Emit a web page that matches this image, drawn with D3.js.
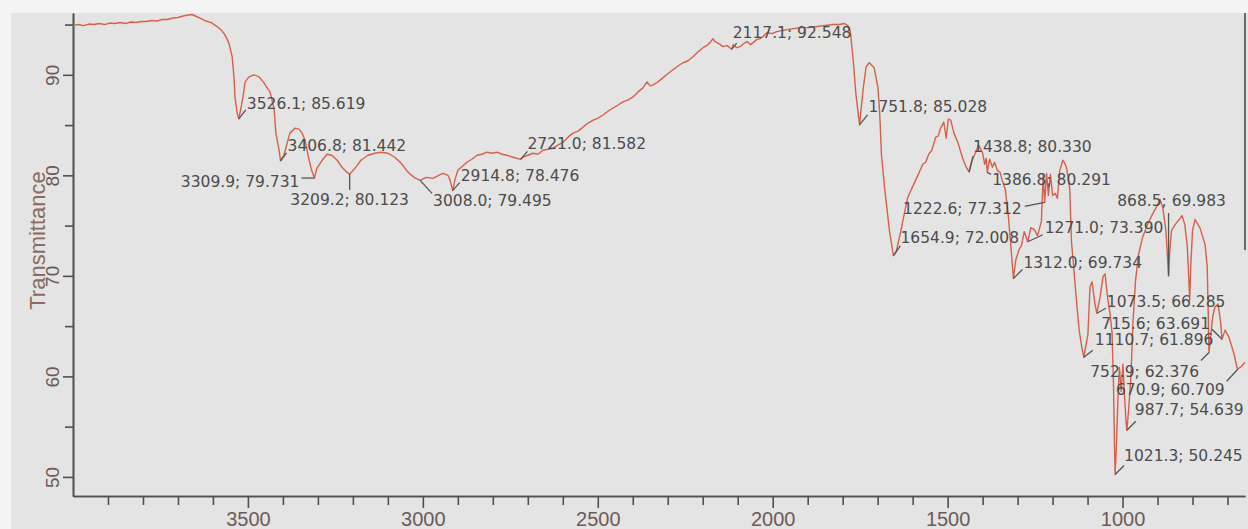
<!DOCTYPE html>
<html>
<head>
<meta charset="utf-8">
<script src="https://cdn.jsdelivr.net/npm/d3@7"></script>
<style>
  html, body { margin: 0; padding: 0; background: #f3f3f3; }
  svg { display: block; }
</style>
</head>
<body>
<svg id="chart" width="1248" height="529"></svg>
<script>
// FTIR spectrum: wavenumber (cm-1) against transmittance (%)
const wavenumber = [
  4000, 3985, 3970, 3955, 3940, 3925, 3910, 3895, 3880, 3865, 3850, 3835, 3820, 3805, 3790, 3775,
  3760, 3745, 3730, 3715, 3700, 3685, 3670, 3660, 3650, 3637, 3620, 3605, 3588, 3575, 3568, 3560,
  3554, 3545, 3540, 3537, 3531, 3526.1, 3517, 3511, 3508, 3497, 3483, 3468, 3454, 3445, 3437, 3431,
  3425, 3420, 3411, 3406.8, 3397, 3388, 3380, 3365, 3354, 3345, 3337, 3331, 3325, 3318, 3309.9, 3303,
  3288, 3274, 3260, 3245, 3231, 3220, 3209.2, 3194, 3177, 3157, 3137, 3120, 3100, 3080, 3062, 3042,
  3025, 3008.0, 2990, 2971, 2955, 2942, 2928, 2922, 2914.8, 2908, 2900, 2887, 2874, 2860, 2845, 2831,
  2817, 2803, 2788, 2774, 2760, 2742, 2721.0, 2714, 2700, 2685, 2671, 2657, 2642, 2628, 2614, 2599,
  2585, 2571, 2556, 2542, 2528, 2513, 2499, 2485, 2470, 2456, 2442, 2428, 2413, 2399, 2385, 2371,
  2365, 2359, 2350, 2342, 2328, 2314, 2300, 2285, 2270, 2256, 2242, 2228, 2213, 2199, 2189, 2179,
  2171, 2165, 2159, 2150, 2142, 2130, 2117.1, 2113, 2103, 2093, 2083, 2073, 2063, 2056, 2046, 2036,
  2028, 2016, 2002, 1988, 1974, 1959, 1940, 1922, 1900, 1873, 1850, 1828, 1810, 1795, 1785, 1778,
  1770, 1762, 1751.8, 1741, 1733, 1724, 1710, 1699, 1694, 1689, 1680, 1666, 1654.9, 1647, 1634, 1625,
  1614, 1605, 1597, 1585, 1571, 1563, 1554, 1545, 1534, 1527, 1520, 1511, 1504, 1498, 1491, 1482,
  1471, 1457, 1448, 1438.8, 1430, 1421, 1412, 1405, 1400, 1394, 1390, 1386.8, 1380, 1372, 1366, 1358,
  1350, 1345, 1335, 1326, 1318, 1312.0, 1305, 1296, 1289, 1281, 1271.0, 1262, 1252, 1243, 1232, 1227,
  1222.6, 1217, 1212, 1206, 1200, 1192, 1186, 1180, 1171, 1165, 1160, 1151, 1146, 1140, 1132, 1124,
  1117, 1110.7, 1099, 1093, 1087, 1079, 1073.5, 1064, 1056, 1050, 1042, 1036, 1030, 1026, 1023, 1021.3,
  1017, 1013, 1009, 1004, 999, 994, 990, 987.7, 983, 976, 970, 963, 955, 943, 930, 915,
  901, 893, 885, 876, 871, 868.5, 865, 860, 850, 838, 830, 822, 815, 811, 808, 805,
  800, 793, 779, 770, 764, 758, 755, 752.9, 748, 742, 736, 727, 720, 715.6, 707, 696,
  681, 673, 670.9, 660, 650
];

const transmittance = [
  94.9, 95.0, 94.9, 95.05, 95.0, 95.1, 95.0, 95.15, 95.1, 95.2, 95.1, 95.25, 95.2, 95.3, 95.3, 95.4,
  95.35, 95.5, 95.5, 95.65, 95.7, 95.85, 95.95, 96.0, 95.85, 95.65, 95.35, 95.2, 94.8, 94.4, 94.1, 93.6,
  93.1, 91.8, 89.8, 87.8, 86.2, 85.619, 87.2, 88.5, 89.3, 89.8, 90.0, 89.8, 89.2, 88.7, 88.3, 87.5,
  86.5, 84.2, 82.5, 81.442, 82.0, 83.2, 84.2, 84.7, 84.6, 84.2, 83.5, 82.5, 81.5, 80.5, 79.731, 80.7,
  81.5, 82.1, 82.0, 81.5, 80.8, 80.4, 80.123, 80.7, 81.5, 82.0, 82.2, 82.3, 82.2, 81.8, 81.2, 80.3,
  79.8, 79.495, 79.8, 79.7, 80.0, 80.2, 80.0, 79.5, 78.476, 79.6, 80.5, 80.9, 81.3, 81.6, 82.0, 82.1,
  82.3, 82.2, 82.3, 82.1, 82.0, 81.8, 81.582, 81.8, 82.0, 82.2, 82.1, 82.5, 82.6, 82.7, 83.0, 83.3,
  83.8, 84.2, 84.4, 84.8, 85.2, 85.5, 85.7, 86.0, 86.4, 86.7, 87.0, 87.3, 87.5, 87.8, 88.3, 88.7,
  89.0, 89.3, 88.9, 89.0, 89.3, 89.7, 90.1, 90.5, 90.9, 91.2, 91.4, 91.8, 92.3, 92.7, 92.9, 93.2,
  93.6, 93.3, 93.2, 93.0, 92.8, 92.9, 92.548, 93.0, 92.7, 92.8, 93.1, 93.3, 93.0, 93.2, 93.5, 93.6,
  93.8, 94.2, 94.1, 94.3, 94.4, 94.5, 94.6, 94.7, 94.7, 94.8, 94.9, 95.0, 95.0, 95.1, 94.9, 94.3,
  91.5, 88.0, 85.028, 88.7, 90.8, 91.2, 90.7, 88.7, 86.0, 82.0, 78.7, 74.4, 72.008, 72.4, 74.4, 76.0,
  77.8, 78.5, 79.1, 80.0, 81.1, 81.3, 82.1, 82.5, 83.8, 83.9, 84.7, 85.3, 83.7, 85.6, 85.5, 84.2,
  83.3, 81.7, 80.9, 80.330, 81.5, 82.2, 83.0, 82.6, 82.2, 81.1, 81.7, 80.291, 81.6, 80.8, 81.3, 80.5,
  80.3, 79.6, 78.6, 75.8, 72.4, 69.734, 71.6, 72.6, 73.0, 74.4, 73.390, 74.8, 74.6, 74.0, 75.4, 80.0,
  77.312, 80.2, 78.0, 80.1, 78.0, 78.2, 77.7, 80.4, 81.5, 81.2, 80.7, 78.7, 73.4, 71.0, 67.6, 64.6,
  63.0, 61.896, 64.2, 68.9, 69.4, 67.2, 66.285, 67.9, 69.9, 70.2, 67.6, 66.3, 64.3, 59.4, 53.0, 50.245,
  53.5, 58.0, 60.9, 58.5, 61.2, 57.8, 55.5, 54.639, 56.5, 60.0, 65.5, 69.5, 72.0, 73.8, 75.0, 76.1,
  77.0, 77.6, 76.8, 74.5, 71.5, 69.983, 72.5, 74.5, 75.1, 75.6, 76.0, 75.1, 73.0, 70.0, 67.6, 71.0,
  74.5, 75.6, 74.8, 73.8, 73.1, 70.9, 66.0, 62.376, 64.0, 66.0, 66.9, 67.2, 65.5, 63.691, 64.6, 63.9,
  62.2, 60.9, 60.709, 61.0, 61.4
];

// Picked peaks (wavenumber; transmittance)
const peakWavenumber = [
  3526.1, 3406.8, 3309.9, 3209.2, 3008.0, 2914.8, 2721.0, 2117.1, 1751.8, 1654.9, 1222.6, 1438.8,
  1386.8, 1312.0, 1271.0, 868.5, 1073.5, 715.6, 1110.7, 752.9, 670.9, 987.7, 1021.3
];
const peakTransmittance = [
  85.619, 81.442, 79.731, 80.123, 79.495, 78.476, 81.582, 92.548, 85.028, 72.008, 77.312, 80.330,
  80.291, 69.734, 73.390, 69.983, 66.285, 63.691, 61.896, 62.376, 60.709, 54.639, 50.245
];

// Axis ticks
const xMajorTicks = [3500, 3000, 2500, 2000, 1500, 1000];
const xMinorTicks = [3900, 3800, 3700, 3600, 3400, 3300, 3200, 3100, 2900, 2800, 2700, 2600,
  2400, 2300, 2200, 2100, 1900, 1800, 1700, 1600, 1400, 1300, 1200, 1100, 900, 800, 700];
const yMajorTicks = [50, 60, 70, 80, 90];
const yMinorTicks = [55, 65, 75, 85, 95];
const yTitle = "Transmittance";

// Peak label placement: text offset (dx, baseline dy), anchor, leader end (lx, ly)
const labelLayout = [
  [8, -10, "start", 7, -9],
  [7, -10, "start", 6, -8],
  [-15, 9, "end", -13, 0],
  [0, 31, "middle", 0, 16],
  [13, 26, "start", 12, 13],
  [8, -10, "start", 7, -8],
  [7, -10, "start", 7, -8],
  [1, -11, "start", 5, -6],
  [9, -13, "start", 8, -10],
  [7, -13, "start", 7, -10],
  [-23, 12, "end", -20, 4],
  [4, -20, "start", 4, -16],
  [5, 13, "start", 4, 2],
  [10, -11, "start", 9, -9],
  [17, -9, "start", 15, -7],
  [3, -70, "middle", 0, -63],
  [10, -6, "start", 9, -5],
  [-12, -10, "end", -10, -10],
  [11, -12, "start", 9, -7],
  [-10, 25, "end", -8, 8],
  [-13, 26, "end", -11, 12],
  [8, -15, "start", 9, -9],
  [9, -13, "start", 9, -9]
];

const svg = d3.select("#chart");
const W = 1248, H = 529;
const plot = { left: 73, right: 1245, top: 13, bottom: 496 };

// Paper and plot background
svg.append("rect").attr("width", W).attr("height", H).attr("fill", "#f4f4f4");
svg.append("rect")
  .attr("x", 11).attr("y", plot.top)
  .attr("width", W - 11).attr("height", H - plot.top)
  .attr("fill", "#e4e4e4");

const x = d3.scaleLinear().domain([4000, 650]).range([plot.left, plot.right]);
const y = d3.scaleLinear().domain([48.1, 96.15]).range([plot.bottom, plot.top]);

const axisColor = "#4f4f4f";
const tickTextColor = "#6e5a55";

// Bottom axis: minor ticks, then labelled major ticks
const xMinor = svg.append("g")
  .attr("transform", `translate(0,${plot.bottom})`)
  .call(d3.axisBottom(x).tickValues(xMinorTicks).tickSize(9).tickSizeOuter(0).tickFormat(""));
const xMajor = svg.append("g")
  .attr("transform", `translate(0,${plot.bottom})`)
  .call(d3.axisBottom(x).tickValues(xMajorTicks).tickSize(12).tickSizeOuter(0).tickPadding(4)
    .tickFormat(d3.format("d")));

// Left axis
const yMinor = svg.append("g")
  .attr("transform", `translate(${plot.left},0)`)
  .call(d3.axisLeft(y).tickValues(yMinorTicks).tickSize(8).tickSizeOuter(0).tickFormat(""));
const yMajor = svg.append("g")
  .attr("transform", `translate(${plot.left},0)`)
  .call(d3.axisLeft(y).tickValues(yMajorTicks).tickSize(10).tickSizeOuter(0)
    .tickFormat(d3.format("d")));

[xMinor, xMajor, yMinor, yMajor].forEach(g => {
  g.select(".domain").attr("stroke", axisColor).attr("stroke-width", 1.6);
  g.selectAll(".tick line").attr("stroke", axisColor).attr("stroke-width", 1.6);
});

xMajor.selectAll(".tick text")
  .attr("fill", tickTextColor)
  .attr("font-family", "'Liberation Sans', Arial, sans-serif")
  .attr("font-size", 20);

yMajor.selectAll(".tick text")
  .attr("fill", tickTextColor)
  .attr("font-family", "'Liberation Sans', Arial, sans-serif")
  .attr("font-size", 19)
  .attr("x", null).attr("dy", null)
  .attr("text-anchor", "middle")
  .attr("transform", "translate(-14,0) rotate(-90)");

// Right frame edge
svg.append("line")
  .attr("x1", plot.right).attr("x2", plot.right)
  .attr("y1", plot.top).attr("y2", 250)
  .attr("stroke", "#5a5a5a").attr("stroke-width", 1.8);

// Axis title
svg.append("text")
  .attr("transform", `translate(45,${(plot.top + plot.bottom) / 2 - 14}) rotate(-90)`)
  .attr("text-anchor", "middle")
  .attr("font-family", "'Liberation Sans', Arial, sans-serif")
  .attr("font-size", 22)
  .attr("fill", "#8a6b5f")
  .text(yTitle);

// Spectrum trace
const spectrum = wavenumber.map((w, i) => ({ w, t: transmittance[i] }));
svg.append("path")
  .datum(spectrum)
  .attr("fill", "none")
  .attr("stroke", "#d6604b")
  .attr("stroke-width", 1.4)
  .attr("stroke-linejoin", "round")
  .attr("d", d3.line().x(d => x(d.w)).y(d => y(d.t)));

// Peak annotations
const fmtW = d3.format(".1f"), fmtT = d3.format(".3f");
const peaks = peakWavenumber.map((w, i) => ({ w, t: peakTransmittance[i], layout: labelLayout[i] }));
const pg = svg.append("g").selectAll("g").data(peaks).join("g")
  .attr("transform", d => `translate(${x(d.w)},${y(d.t)})`);
pg.append("line")
  .attr("x1", 0).attr("y1", 0)
  .attr("x2", d => d.layout[3]).attr("y2", d => d.layout[4])
  .attr("stroke", "#555").attr("stroke-width", 1.3);
pg.append("text")
  .attr("x", d => d.layout[0]).attr("y", d => d.layout[1])
  .attr("text-anchor", d => d.layout[2])
  .attr("font-family", "'DejaVu Sans', Verdana, sans-serif")
  .attr("font-size", 15.5)
  .attr("fill", "#4c4c4c")
  .text(d => `${fmtW(d.w)}; ${fmtT(d.t)}`);
</script>
</body>
</html>
